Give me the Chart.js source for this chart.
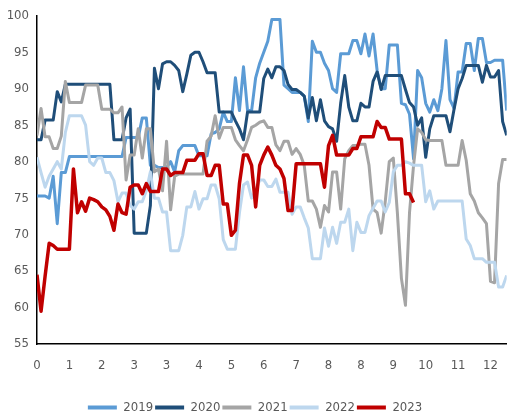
<!DOCTYPE html>
<html lang="es">
<head>
<meta charset="utf-8">
<title>Gráfico anual</title>
<script src="https://cdn.jsdelivr.net/npm/chart.js"></script>
<style>
  html, body { margin: 0; padding: 0; background: #fff; }
  #contenedor { position: relative; width: 512px; height: 418px; }
</style>
</head>
<body>
<div id="contenedor"><canvas id="graficoAnual"></canvas></div>
<script>
// Etiquetas del eje X (una cada 8 muestras)
const etiquetasEje = ['0', '1', '2', '3', '3', '4', '5', '6', '7', '8', '8', '9', '10', '11', '12'];
const muestrasPorEtiqueta = 8;
const anios = ['2019', '2020', '2021', '2022', '2023'];

// Valores
const serie2019 = [
  75.3, 75.3, 75.3, 75, 78, 71.5, 78.5, 78.5, 80.7, 80.7,
  80.7, 80.7, 80.7, 80.7, 80.7, 80.7, 80.7, 80.7, 80.7, 80.7,
  80.7, 80.7, 83.3, 83.3, 83.3, 83.3, 86, 86, 79.5, 79.5,
  79.2, 79.2, 79.2, 80, 78.6, 81.5, 82.2, 82.2, 82.2, 82.2,
  80.8, 80.8, 80.8, 83.8, 84, 84.5, 86.8, 85.5, 85.5, 91.5,
  87, 93, 87, 87, 91.5, 93.5, 95, 96.5, 99.5, 99.5,
  99.5, 90.5, 90, 89.5, 89.5, 89.5, 89, 85.5, 96.5, 95,
  95, 93.5, 92.5, 90, 89.5, 94.8, 94.8, 94.8, 96.6, 96.6,
  94.8, 97.5, 94.5, 97.5, 92.5, 90, 90, 96, 96, 96,
  88, 87.8, 86.5, 80.4, 92.5, 91.5, 88, 86.8, 88.5, 87,
  90, 96.6, 88.5, 87.3, 92.3, 92.3, 96.2, 96.2, 92.5, 96.9,
  96.9, 93.6, 93.6, 93.9, 93.9, 93.9, 87
];
const serie2020 = [
  83, 83, 85.7, 85.7, 85.7, 89.6, 88.2, 90.6, 90.6, 90.6,
  90.6, 90.6, 90.6, 90.6, 90.6, 90.6, 90.6, 90.6, 90.6, 83,
  83, 83, 86, 87.2, 70.2, 70.2, 70.2, 70.2, 74, 92.8,
  90, 93.4, 93.7, 93.7, 93.2, 92.5, 89.6, 92, 94.6, 95,
  95, 93.7, 92.2, 92.2, 92.2, 86.8, 86.8, 86.8, 86.8, 85.6,
  84.5, 83, 86.8, 86.8, 86.8, 86.8, 91.4, 92.7, 91.5, 93,
  93, 92.5, 90.6, 89.9, 89.9, 89.5, 89, 86, 88.8, 85.6,
  88.5, 85.6, 84.8, 84.5, 82.8, 88, 91.8, 87.5, 85.6, 85.6,
  88, 87.5, 87.5, 91, 92.3, 89.9, 91.8, 91.8, 91.8, 91.8,
  91.8, 89.9, 88.1, 87.5, 85, 86, 80.6, 84.5, 86.3, 86.3,
  86.3, 86.3, 84.1, 87.2, 90, 91.4, 93.2, 93.2, 93.2, 93.2,
  90.9, 93.2, 91.6, 91.6, 92.5, 85.5, 83.6
];
const serie2021 = [
  83.6, 87.3, 83.4, 83.4, 81.8, 81.8, 83.5, 91, 88.1, 88.1,
  88.1, 88.1, 90.5, 90.5, 90.5, 90.5, 87.2, 87.2, 87.2, 86.7,
  86.7, 87.5, 77.5, 80.9, 80.9, 84.5, 80.5, 84.5, 84.5, 78.6,
  79, 76, 82.8, 73.4, 78, 78.3, 78.3, 78.3, 78.3, 78.3,
  78.3, 78.3, 82.8, 83.5, 86.3, 83.2, 84.7, 84.7, 84.7, 83,
  82.2, 81.5, 83, 84.7, 85, 85.4, 85.6, 84.7, 84.7, 82.3,
  81.5, 82.8, 82.8, 81, 81.8, 81, 79.5, 74.6, 74.6, 73.5,
  71, 74, 73.1, 78.6, 78.6, 73.5, 80.4, 81.5, 82.2, 82.2,
  82.4, 82.4, 79.5, 73.5, 73, 70.2, 74.5, 80, 80.5, 73,
  64, 60.3, 73, 79.5, 84.5, 84, 83, 82.9, 82.9, 82.9,
  82.9, 79.5, 79.5, 79.5, 79.5, 82.9, 80.2, 75.6, 74.6, 73,
  72.3, 71.5, 63.6, 63.4, 77, 80.3, 80.3
];
const serie2022 = [
  80.6, 78.5, 76.5, 78, 79, 80, 79, 84, 86.3, 86.3,
  86.3, 86.3, 85, 80, 79.5, 80.5, 80.5, 78.5, 78.5, 77.4,
  74.5, 75.7, 75.7, 74, 73.5, 74.5, 74.5, 76, 78.6, 75,
  75, 73.1, 73.1, 67.8, 67.8, 67.8, 69.9, 73.8, 73.8, 75.9,
  73.5, 74.9, 74.9, 76.8, 76.8, 74.9, 69.3, 68, 68, 68,
  73, 76.8, 77.2, 75, 76, 77.5, 77.5, 76.6, 76.6, 77.6,
  75.8, 75.8, 75.8, 72.8, 73.8, 73.8, 72.3, 70.9, 66.7, 66.7,
  66.7, 70.9, 68.4, 71, 68.8, 71.7, 71.7, 73.5, 67.8, 71.7,
  70.3, 70.3, 72.6, 73.6, 74.6, 74.6, 73.1, 74.4, 78.6, 79.5,
  79.5, 80, 79.8, 79.5, 79.5, 79.5, 74.5, 76, 73.5, 74.6,
  74.6, 74.6, 74.6, 74.6, 74.6, 74.6, 69.4, 68.5, 66.7, 66.7,
  66.7, 66.2, 66.2, 66.2, 62.8, 62.8, 64.4
];
const serie2023 = [
  64.5, 59.5, 64.3, 68.8, 68.5, 68, 68, 68, 68, 79,
  73, 74.5, 73.2, 75, 74.8, 74.5, 73.8, 73.4, 72.5, 70.6,
  74.2, 73, 72.8, 76.5, 76.8, 76.8, 75.6, 77, 75.9, 75.9,
  75.9, 79, 79, 78.1, 78.5, 78.5, 78.5, 80.2, 80.2, 80.2,
  81.1, 81.1, 78.1, 78.1, 79.5, 79.5, 74.2, 74.2, 69.9, 70.6,
  77, 80.9, 80.9, 79.5, 73.8, 79.5, 80.9, 82, 80.9, 79.5,
  79, 77.7, 73.3, 73.3, 79.7, 79.7, 79.7, 79.7, 79.7, 79.7,
  79.7, 76.5, 82.2, 83.6, 80.9, 80.9, 80.9, 80.9, 81.8, 81.8,
  83.4, 83.4, 83.4, 83.4, 85.5, 84.7, 84.7, 83.1, 83.1, 83.1,
  83.1, 75.6, 75.6, 74.4
];

const series = [serie2019, serie2020, serie2021, serie2022, serie2023];
const colores = ['#5B9BD5', '#1F4E79', '#A5A5A5', '#BDD7EE', '#C00000'];

document.addEventListener("DOMContentLoaded", function () {
    Chart.defaults.font.family = "'Liberation Sans Narrow', 'DejaVu Sans Condensed', 'Liberation Sans', sans-serif";
    Chart.defaults.font.size = 13;
    Chart.defaults.color = '#595959';

    const ctx = document.getElementById('graficoAnual');

    new Chart(ctx, {
        type: 'line',
        data: {
            labels: serie2019.map((_, i) => i),
            datasets: anios.map((anio, k) => ({
                label: anio,
                data: series[k],
                borderColor: colores[k],
                backgroundColor: colores[k],
                borderWidth: k === 4 ? 3.5 : 3,
                pointRadius: 0,
                tension: 0,
                borderJoinStyle: 'round',
                order: 5 - k // 2023 encima de todo
            }))
        },
        options: {
            responsive: true,
            maintainAspectRatio: false,
            animation: false,
            // el borde inferior negativo baja la leyenda
            layout: { padding: { top: 5, right: 2, bottom: -6, left: 0 } },
            scales: {
                x: {
                    type: 'linear',
                    min: 0,
                    max: 116,
                    grid: { display: false, drawTicks: false },
                    border: { color: '#000', width: 1.5 },
                    afterBuildTicks: function (eje) {
                        eje.ticks = etiquetasEje.map((_, k) => ({ value: k * muestrasPorEtiqueta }));
                    },
                    afterFit: function (eje) {
                        eje.height = 55;
                    },
                    ticks: {
                        padding: 14,
                        maxRotation: 0,
                        autoSkip: false,
                        callback: (valor, indice) => etiquetasEje[indice]
                    }
                },
                y: {
                    min: 55,
                    max: 100,
                    grid: { display: false, drawTicks: false },
                    border: { color: '#000', width: 1.5 },
                    ticks: { stepSize: 5, padding: 8 },
                    afterFit: function (eje) {
                        eje.width = 37;
                    }
                }
            },
            plugins: {
                tooltip: { enabled: false },
                legend: {
                    position: 'bottom',
                    labels: {
                        boxWidth: 29,
                        boxHeight: 4,
                        padding: 2,
                        sort: (a, b) => a.datasetIndex - b.datasetIndex,
                        generateLabels: function (chart) {
                            return Chart.defaults.plugins.legend.labels.generateLabels(chart).map(item => {
                                item.lineWidth = 0;
                                item.fillStyle = item.strokeStyle;
                                return item;
                            });
                        }
                    }
                }
            }
        }
    });
});
</script>
</body>
</html>
